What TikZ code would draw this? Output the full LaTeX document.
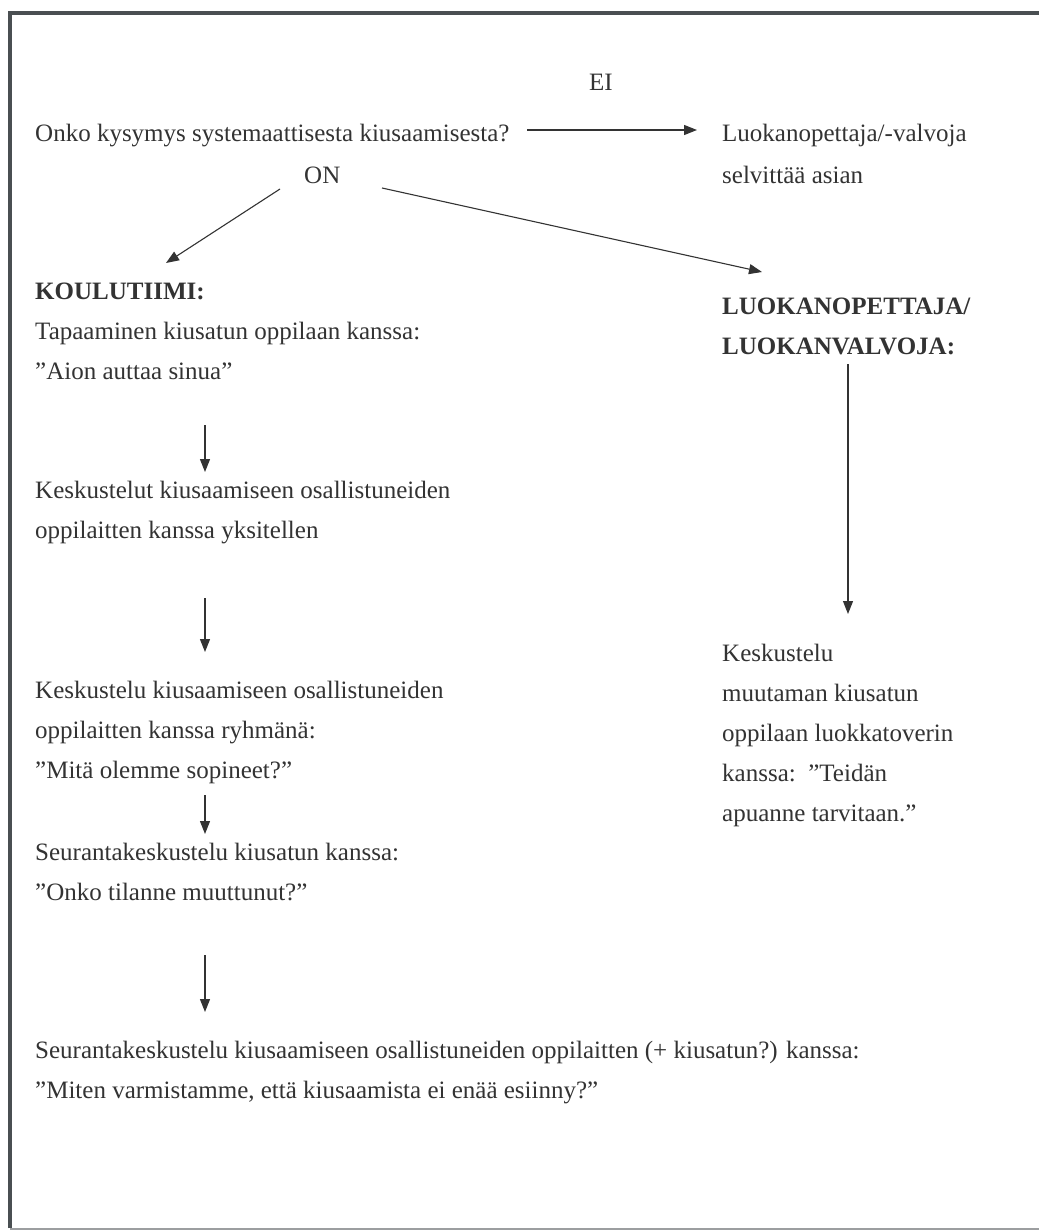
\documentclass[tikz,border=0pt]{standalone}
\usepackage{fontspec}
\setmainfont{Liberation Serif}
\usetikzlibrary{arrows.meta}
\definecolor{ink}{HTML}{333333}
\definecolor{frameclr}{HTML}{4A4F52}
\newcommand\tstrut{\rule{0pt}{20pt}}
\begin{document}
\begin{tikzpicture}[x=1pt,y=-1pt,
  every node/.style={inner sep=0pt, text=ink, font=\fontsize{25}{40}\selectfont},
  txt/.style={anchor=north west, align=left},
  arr/.style={draw=ink, line width=1.1pt, -{Triangle[length=13pt,width=10pt]}}]
\useasboundingbox (0,0) rectangle (1039,1230);
\fill[white] (0,0) rectangle (1039,1230);
\draw[frameclr, line width=4pt] (10,1228) -- (10,13) -- (1039,13);
\draw[frameclr!55, line width=2pt] (10,1229) -- (1039,1229);

% top
\node[txt] (q) at (35,121) {\tstrut Onko kysymys systemaattisesta kiusaamisesta?};
\node[txt] (ei) at (589,70) {\tstrut EI};
\node[txt] (lv) at (722,121) {\tstrut Luokanopettaja/-valvoja\\[2pt]selvittää asian};
\node[txt] (on) at (304,163) {\tstrut ON};

% left column
\node[txt] (kt) at (35,279) {\tstrut\textbf{KOULUTIIMI:}\\Tapaaminen kiusatun oppilaan kanssa:\\”Aion auttaa sinua”};
\node[txt] (k1) at (35,478) {\tstrut Keskustelut kiusaamiseen osallistuneiden\\oppilaitten kanssa yksitellen};
\node[txt] (k2) at (35,678) {\tstrut Keskustelu kiusaamiseen osallistuneiden\\oppilaitten kanssa ryhmänä:\\”Mitä olemme sopineet?”};
\node[txt] (s1) at (35,840) {\tstrut Seurantakeskustelu kiusatun kanssa:\\”Onko tilanne muuttunut?”};
\node[txt] (s2) at (35,1038) {\tstrut Seurantakeskustelu kiusaamiseen osallistuneiden oppilaitten (+ kiusatun?) kanssa:\\”Miten varmistamme, että kiusaamista ei enää esiinny?”};

% right column
\node[txt] (lo) at (722,294) {\tstrut\textbf{LUOKANOPETTAJA/}\\\textbf{LUOKANVALVOJA:}};
\node[txt] (kr) at (722,641) {\tstrut Keskustelu\\muutaman kiusatun\\oppilaan luokkatoverin\\kanssa:\ \ ”Teidän\\apuanne tarvitaan.”};

% connector ends
\coordinate (eiA) at (527,130);  \coordinate (eiB) at (697,130);
\coordinate (onL1) at (280,189); \coordinate (onL2) at (166,263);
\coordinate (onR1) at (382,188); \coordinate (onR2) at (762,272);
\coordinate (a1) at (205,425); \coordinate (b1) at (205,472);
\coordinate (a2) at (205,598); \coordinate (b2) at (205,652);
\coordinate (a3) at (205,795); \coordinate (b3) at (205,834);
\coordinate (a4) at (205,955); \coordinate (b4) at (205,1012);
\coordinate (a5) at (848,364); \coordinate (b5) at (848,614);

\draw[arr] (eiA) -- (eiB);
\draw[arr] (onL1) -- (onL2);
\draw[arr] (onR1) -- (onR2);
\draw[arr] (a1) -- (b1);
\draw[arr] (a2) -- (b2);
\draw[arr] (a3) -- (b3);
\draw[arr] (a4) -- (b4);
\draw[arr] (a5) -- (b5);
\end{tikzpicture}
\end{document}
